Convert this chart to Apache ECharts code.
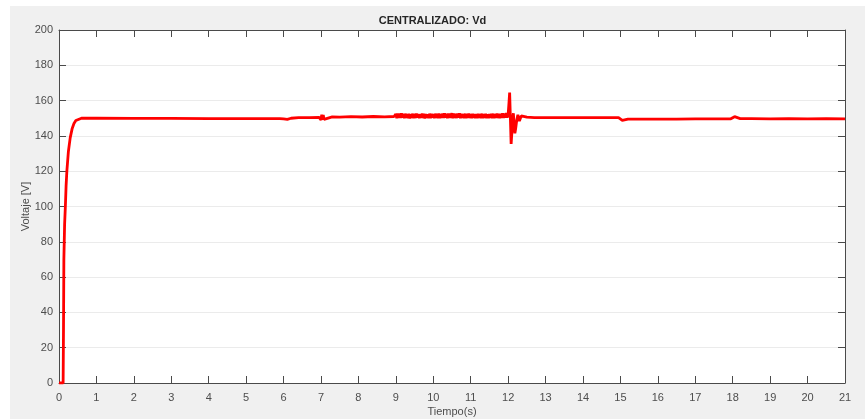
<!DOCTYPE html>
<html>
<head>
<meta charset="utf-8">
<script src="https://cdn.jsdelivr.net/npm/echarts@6/dist/echarts.min.js"></script>
<style>
html,body{margin:0;padding:0;background:#ffffff;}
#c{width:865px;height:419px;}
</style>
</head>
<body>
<div id="c"></div>
<script>
// Time (s)
var timeValues = [
  0, 0.11, 0.12, 0.13, 0.15, 0.17, 0.19, 0.21, 0.25, 0.3, 0.35, 0.4, 0.45, 0.5, 0.6, 1, 2, 3, 4, 5, 5.9,
  6.0, 6.05, 6.1, 6.2, 6.4, 6.7, 6.95, 7.0, 7.02, 7.04, 7.06, 7.08, 7.1, 7.3, 7.5, 7.8, 8.1, 8.4, 8.7, 8.95,
  9.0, 9.025, 9.05, 9.075, 9.1, 9.125, 9.15, 9.175, 9.2, 9.225, 9.25, 9.275, 9.3, 9.325, 9.35, 9.375, 9.4, 9.425, 9.45, 9.475,
  9.5, 9.525, 9.55, 9.575, 9.6, 9.625, 9.65, 9.675, 9.7, 9.725, 9.75, 9.775, 9.8, 9.825, 9.85, 9.875, 9.9, 9.925, 9.95, 9.975,
  10.0, 10.025, 10.05, 10.075, 10.1, 10.125, 10.15, 10.175, 10.2, 10.225, 10.25, 10.275, 10.3, 10.325, 10.35, 10.375, 10.4, 10.425, 10.45, 10.475,
  10.5, 10.525, 10.55, 10.575, 10.6, 10.625, 10.65, 10.675, 10.7, 10.725, 10.75, 10.775, 10.8, 10.825, 10.85, 10.875, 10.9, 10.925, 10.95, 10.975,
  11.0, 11.025, 11.05, 11.075, 11.1, 11.125, 11.15, 11.175, 11.2, 11.225, 11.25, 11.275, 11.3, 11.325, 11.35, 11.375, 11.4, 11.425, 11.45, 11.475,
  11.5, 11.525, 11.55, 11.575, 11.6, 11.625, 11.65, 11.675, 11.7, 11.725, 11.75, 11.775, 11.8, 11.825, 11.85, 11.875, 11.9, 11.925, 11.95, 11.975,
  12.0, 12.02, 12.04, 12.06, 12.08, 12.1, 12.12, 12.14, 12.16, 12.18, 12.2, 12.23, 12.26, 12.3, 12.35, 12.4, 12.5, 12.7, 13, 13.5, 14, 14.5, 14.95,
  15.0, 15.05, 15.1, 15.2, 15.5, 16, 16.5, 17, 17.5, 17.95, 18.0, 18.05, 18.1, 18.2, 18.5, 19, 19.5, 20, 20.5, 21
];
// Voltage Vd (V)
var vdValues = [
  0, 0, 30, 70, 90, 100, 112, 120, 131, 139, 144, 147, 148.7, 149.5, 150, 150, 149.9, 149.9, 149.8, 149.8, 149.8,
  149.6, 148.9, 149.4, 150.0, 150.3, 150.4, 150.5, 149.0, 152.0, 149.2, 151.9, 149.4, 150.5, 150.8, 150.6, 150.9, 150.7, 151.0, 150.8, 151.0,
  152.4, 150.0, 152.7, 150.2, 152.6, 150.1, 152.8, 150.3, 152.5, 150.0, 152.6, 150.2, 152.4, 150.1, 152.5, 149.9, 152.3, 150.2, 152.6, 150.0,
  152.5, 150.1, 152.7, 150.3, 152.4, 150.0, 152.3, 150.2, 152.6, 150.1, 152.5, 149.9, 152.4, 150.2, 152.3, 150.0, 152.6, 150.1, 152.5, 150.3,
  152.4, 150.0, 152.6, 150.2, 152.5, 150.1, 152.7, 150.0, 152.4, 150.2, 152.6, 150.1, 152.8, 150.3, 152.5, 150.0, 152.7, 150.2, 152.6, 150.1,
  152.9, 150.0, 152.7, 150.2, 152.5, 150.1, 152.6, 150.3, 152.8, 150.0, 152.5, 150.2, 152.4, 150.1, 152.6, 150.0, 152.5, 150.2, 152.7, 150.1,
  152.4, 150.0, 152.5, 150.2, 152.3, 150.1, 152.4, 150.0, 152.5, 150.2, 152.3, 150.1, 152.6, 150.0, 152.4, 150.2, 152.5, 150.1, 152.3, 150.0,
  152.4, 150.2, 152.5, 150.1, 152.6, 150.0, 152.4, 150.2, 152.7, 150.1, 152.5, 150.0, 152.6, 150.2, 152.8, 150.1, 152.7, 150.3, 153.0, 150.4,
  152.0, 158, 164.5, 150, 135.5, 142, 150, 152.8, 146, 141.5, 144, 149, 152, 148.5, 151.3, 150.2, 150.6, 150.4, 150.4, 150.3, 150.3, 150.3, 150.3,
  149.8, 148.8, 149.3, 149.5, 149.5, 149.5, 149.5, 149.6, 149.6, 149.7, 150.3, 150.9, 150.1, 149.8, 149.8, 149.7, 149.8, 149.7, 149.8, 149.7
];
var seriesData = timeValues.map(function (t, i) { return [t, vdValues[i]]; });

var chart = echarts.init(document.getElementById('c'), null, {renderer: 'canvas'});
var axisCol = '#4a4a4a';
var fontFam = 'Liberation Sans, Arial, sans-serif';
var labelStyle = {color: '#4d4d4d', fontSize: 11, fontFamily: fontFam};
chart.setOption({
  backgroundColor: '#ffffff',
  animation: false,
  graphic: [{
    type: 'rect', z: -10, silent: true,
    shape: {x: 10, y: 6, width: 855, height: 413},
    style: {fill: '#f0f0f0'}
  }],
  title: {
    text: 'CENTRALIZADO: Vd',
    left: 'center', top: 10,
    textStyle: {fontSize: 11, fontWeight: 'bold', color: '#262626', fontFamily: fontFam}
  },
  grid: {left: 59, right: 20, top: 30, bottom: 36, outerBoundsMode: 'none', containLabel: false,
         show: true, backgroundColor: '#ffffff', borderWidth: 0},
  xAxis: [{
    type: 'value', min: 0, max: 21, interval: 1, position: 'bottom',
    name: 'Tiempo(s)', nameLocation: 'middle', nameGap: 23, nameMoveOverlap: false,
    nameTextStyle: {color: '#4d4d4d', fontSize: 11, fontFamily: fontFam},
    axisLine: {show: true, onZero: false, lineStyle: {color: axisCol, width: 1}},
    axisTick: {show: true, inside: true, length: 7, lineStyle: {color: axisCol}},
    axisLabel: Object.assign({margin: 9}, labelStyle),
    splitLine: {show: false}
  }, {
    type: 'value', min: 0, max: 21, interval: 1, position: 'top',
    axisLine: {show: true, onZero: false, lineStyle: {color: axisCol, width: 1}},
    axisTick: {show: true, inside: true, length: 7, lineStyle: {color: axisCol}},
    axisLabel: {show: false},
    splitLine: {show: false}
  }],
  yAxis: [{
    type: 'value', min: 0, max: 200, interval: 20, position: 'left',
    name: 'Voltaje [V]', nameLocation: 'middle', nameGap: 28, nameMoveOverlap: false,
    nameTextStyle: {color: '#4d4d4d', fontSize: 11, fontFamily: fontFam},
    axisLine: {show: true, onZero: false, lineStyle: {color: axisCol, width: 1}},
    axisTick: {show: true, inside: true, length: 7, lineStyle: {color: axisCol}},
    axisLabel: Object.assign({margin: 6}, labelStyle),
    splitLine: {show: true, lineStyle: {color: '#ebebeb', width: 1}}
  }, {
    type: 'value', min: 0, max: 200, interval: 20, position: 'right',
    axisLine: {show: true, onZero: false, lineStyle: {color: axisCol, width: 1}},
    axisTick: {show: true, inside: true, length: 7, lineStyle: {color: axisCol}},
    axisLabel: {show: false},
    splitLine: {show: false}
  }],
  series: [{
    type: 'line',
    xAxisIndex: 0, yAxisIndex: 0,
    data: seriesData,
    showSymbol: false,
    symbol: 'none',
    lineStyle: {color: '#ff0000', width: 2.8},
    itemStyle: {color: '#ff0000'}
  }]
});
</script>
</body>
</html>
